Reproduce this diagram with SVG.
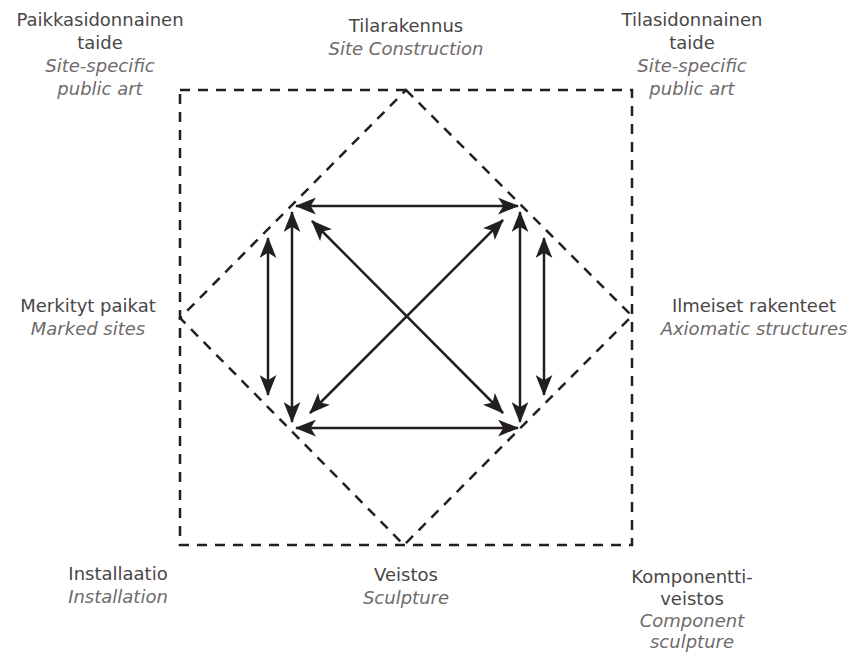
<svg xmlns="http://www.w3.org/2000/svg" width="847" height="652" viewBox="0 0 847 652">
<defs>
<style>
.t{font-family:"DejaVu Sans","Open Sans",sans-serif;font-size:18px;fill:#4a4646;text-anchor:middle}
.i{font-family:"DejaVu Sans","Open Sans",sans-serif;font-size:18px;font-style:italic;fill:#6e6a6a;text-anchor:middle}
.d{fill:none;stroke:#231f20;stroke-width:2.5;stroke-dasharray:10 8}
.a{fill:none;stroke:#231f20;stroke-width:2.5}
</style>
<marker id="ah" viewBox="0 0 20 16" refX="19" refY="8" markerWidth="21" markerHeight="17" markerUnits="userSpaceOnUse" orient="auto-start-reverse">
<path d="M0,0 L20,8 L0,16 L5,8 Z" fill="#231f20"/>
</marker>
</defs>
<rect width="847" height="652" fill="#fff"/>
<g id="frame">
<rect class="d" x="180" y="90" width="452" height="455"/>
<path class="d" d="M406,90 L632,316 L404,545 L180,318 Z"/>
</g>
<g id="connectors">
<line class="a" x1="296" y1="206" x2="518" y2="206" marker-start="url(#ah)" marker-end="url(#ah)"/>
<line class="a" x1="296" y1="428" x2="518" y2="428" marker-start="url(#ah)" marker-end="url(#ah)"/>
<line class="a" x1="292" y1="212" x2="292" y2="422" marker-start="url(#ah)" marker-end="url(#ah)"/>
<line class="a" x1="520" y1="212" x2="520" y2="422" marker-start="url(#ah)" marker-end="url(#ah)"/>
<line class="a" x1="268" y1="238" x2="268" y2="395" marker-start="url(#ah)" marker-end="url(#ah)"/>
<line class="a" x1="544" y1="238" x2="544" y2="395" marker-start="url(#ah)" marker-end="url(#ah)"/>
<line class="a" x1="312" y1="221" x2="503" y2="413" marker-start="url(#ah)" marker-end="url(#ah)"/>
<line class="a" x1="503" y1="220" x2="310" y2="413" marker-start="url(#ah)" marker-end="url(#ah)"/>
</g>
<g id="n-topleft">
<text class="t" x="100" y="26">Paikkasidonnainen</text>
<text class="t" x="100" y="49">taide</text>
<text class="i" x="100" y="72">Site-specific</text>
<text class="i" x="100" y="95">public art</text>
</g>
<g id="n-top">
<text class="t" x="406" y="32">Tilarakennus</text>
<text class="i" x="406" y="55">Site Construction</text>
</g>
<g id="n-topright">
<text class="t" x="692" y="26">Tilasidonnainen</text>
<text class="t" x="692" y="49">taide</text>
<text class="i" x="692" y="72">Site-specific</text>
<text class="i" x="692" y="95">public art</text>
</g>
<g id="n-left">
<text class="t" x="88" y="312">Merkityt paikat</text>
<text class="i" x="88" y="335">Marked sites</text>
</g>
<g id="n-right">
<text class="t" x="754" y="312">Ilmeiset rakenteet</text>
<text class="i" x="754" y="335">Axiomatic structures</text>
</g>
<g id="n-bottomleft">
<text class="t" x="118" y="580">Installaatio</text>
<text class="i" x="118" y="603">Installation</text>
</g>
<g id="n-bottom">
<text class="t" x="406" y="581">Veistos</text>
<text class="i" x="406" y="604">Sculpture</text>
</g>
<g id="n-bottomright">
<text class="t" x="692" y="583">Komponentti-</text>
<text class="t" x="692" y="605">veistos</text>
<text class="i" x="692" y="627">Component</text>
<text class="i" x="692" y="648">sculpture</text>
</g>
</svg>
